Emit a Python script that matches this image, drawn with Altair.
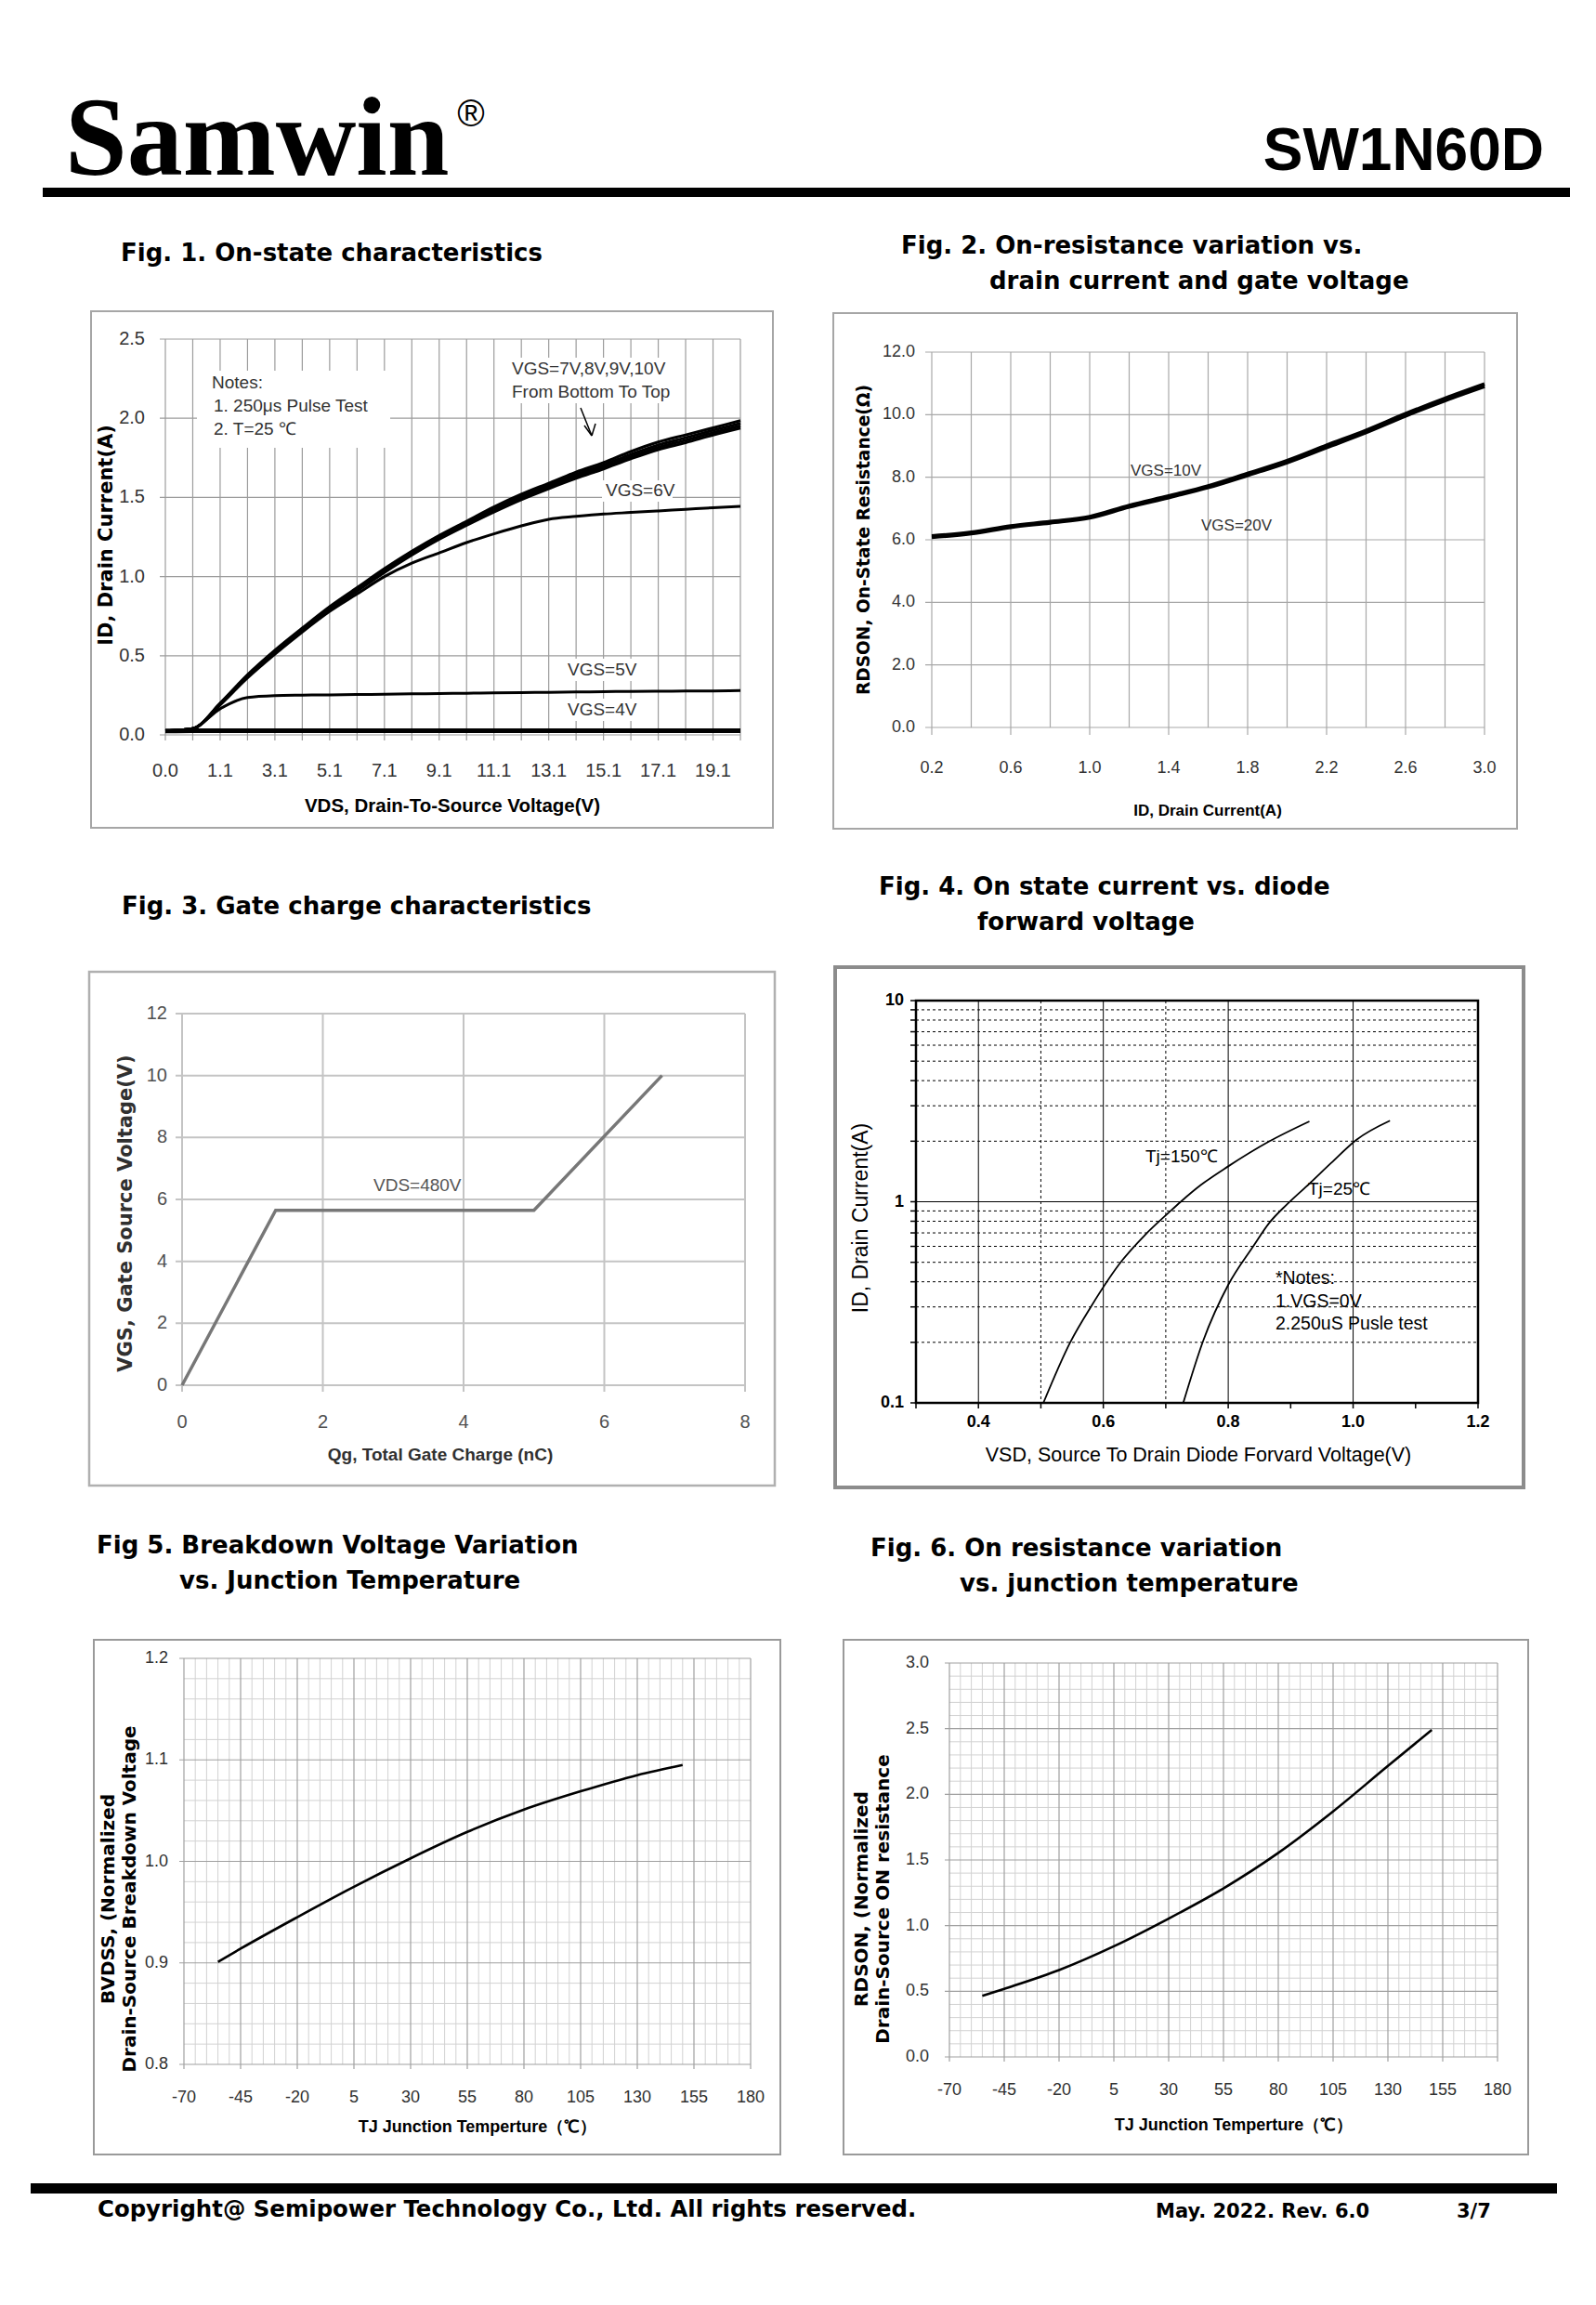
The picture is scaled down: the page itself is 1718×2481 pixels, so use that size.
import altair as alt
import pandas as pd

# ---------------------------------------------------------------- data
# Fig.1  On-state characteristics (Excel category axis)
vds_categories = ["0.0", "0.1", "1.1", "2.1", "3.1", "4.1", "5.1", "6.1", "7.1", "8.1", "9.1",
                  "10.1", "11.1", "12.1", "13.1", "14.1", "15.1", "16.1", "17.1", "18.1", "19.1", "20.1"]
id_vgs10 = [0.025, 0.04, 0.20, 0.38, 0.535, 0.675, 0.81, 0.93, 1.05, 1.16, 1.26, 1.35, 1.44, 1.52, 1.59, 1.66, 1.72, 1.79, 1.85, 1.895, 1.94, 1.985]
id_vgs9 = [0.025, 0.04, 0.197, 0.376, 0.53, 0.67, 0.803, 0.922, 1.04, 1.15, 1.25, 1.34, 1.428, 1.507, 1.577, 1.645, 1.705, 1.772, 1.832, 1.877, 1.924, 1.968]
id_vgs8 = [0.025, 0.04, 0.194, 0.372, 0.525, 0.665, 0.797, 0.915, 1.033, 1.143, 1.243, 1.332, 1.418, 1.496, 1.566, 1.632, 1.692, 1.757, 1.816, 1.861, 1.909, 1.953]
id_vgs7 = [0.025, 0.04, 0.19, 0.368, 0.52, 0.66, 0.79, 0.908, 1.026, 1.136, 1.236, 1.324, 1.408, 1.486, 1.555, 1.62, 1.68, 1.744, 1.802, 1.846, 1.894, 1.938]
id_vgs6 = [0.025, 0.04, 0.19, 0.36, 0.51, 0.65, 0.78, 0.89, 1.0, 1.085, 1.15, 1.215, 1.27, 1.32, 1.362, 1.38, 1.395, 1.405, 1.415, 1.425, 1.435, 1.443]
id_vgs5 = [0.025, 0.04, 0.165, 0.236, 0.248, 0.251, 0.253, 0.255, 0.257, 0.259, 0.261, 0.263, 0.265, 0.267, 0.269, 0.271, 0.273, 0.275, 0.276, 0.277, 0.278, 0.28]
id_vgs4 = [0.025, 0.026, 0.026, 0.026, 0.027, 0.027, 0.027, 0.027, 0.027, 0.027, 0.027, 0.027, 0.027, 0.027, 0.027, 0.027, 0.027, 0.027, 0.027, 0.027, 0.027, 0.027]
fig1_y_ticks = [0.0, 0.5, 1.0, 1.5, 2.0, 2.5]
fig1_y_labels = ["0.0", "0.5", "1.0", "1.5", "2.0", "2.5"]

# Fig.2  RDS(on) vs drain current
fig2_id = [0.2, 0.4, 0.6, 0.8, 1.0, 1.2, 1.4, 1.6, 1.8, 2.0, 2.2, 2.4, 2.6, 2.8, 3.0]
rds_vgs10 = [6.12, 6.24, 6.44, 6.58, 6.74, 7.10, 7.40, 7.72, 8.12, 8.53, 9.02, 9.50, 10.03, 10.52, 10.98]
rds_vgs20 = [6.08, 6.20, 6.40, 6.54, 6.70, 7.05, 7.35, 7.67, 8.06, 8.47, 8.95, 9.43, 9.96, 10.45, 10.90]
fig2_x_ticks = [0.2, 0.6, 1.0, 1.4, 1.8, 2.2, 2.6, 3.0]
fig2_x_labels = ["0.2", "0.6", "1.0", "1.4", "1.8", "2.2", "2.6", "3.0"]
fig2_y_ticks = [0.0, 2.0, 4.0, 6.0, 8.0, 10.0, 12.0]
fig2_y_labels = ["0.0", "2.0", "4.0", "6.0", "8.0", "10.0", "12.0"]

# Fig.3  Gate charge
qg_nc = [0.0, 1.33, 5.0, 6.82]
vgs_v = [0.0, 5.65, 5.65, 10.0]
fig3_x_ticks = [0, 2, 4, 6, 8]
fig3_x_labels = ["0", "2", "4", "6", "8"]
fig3_y_ticks = [0, 2, 4, 6, 8, 10, 12]
fig3_y_labels = ["0", "2", "4", "6", "8", "10", "12"]

# Fig.4  Body diode forward voltage
vsd_150 = [0.504, 0.547, 0.580, 0.630, 0.666, 0.706, 0.724, 0.756, 0.800, 0.865, 0.930]
isd_150 = [0.10, 0.20, 0.30, 0.51, 0.68, 0.89, 1.00, 1.21, 1.50, 1.99, 2.51]
vsd_25 = [0.728, 0.760, 0.800, 0.840, 0.865, 0.894, 0.930, 0.965, 1.005, 1.059]
isd_25 = [0.10, 0.204, 0.386, 0.60, 0.78, 0.97, 1.23, 1.56, 2.03, 2.53]
fig4_x_ticks = [0.4, 0.6, 0.8, 1.0, 1.2]
fig4_x_labels = ["0.4", "0.6", "0.8", "1.0", "1.2"]
fig4_x_all_ticks = [0.3, 0.4, 0.5, 0.6, 0.7, 0.8, 0.9, 1.0, 1.1, 1.2]
fig4_y_ticks = [0.1, 1, 10]
fig4_y_labels = ["0.1", "1", "10"]
fig4_y_minor = [0.2, 0.3, 0.4, 0.5, 0.6, 0.7, 0.8, 0.9, 2, 3, 4, 5, 6, 7, 8, 9]

# Fig.5  Normalized BVDSS vs Tj
tj5 = [-55, -45, -20, 5, 30, 55, 80, 105, 130, 150]
bvdss = [0.901, 0.914, 0.945, 0.975, 1.003, 1.029, 1.051, 1.069, 1.085, 1.095]
# Fig.6  Normalized RDS(on) vs Tj
tj6 = [-55, -45, -20, 5, 30, 55, 80, 105, 130, 150]
rdson_n = [0.465, 0.519, 0.662, 0.843, 1.054, 1.284, 1.554, 1.870, 2.216, 2.490]

tj_major = [-70, -45, -20, 5, 30, 55, 80, 105, 130, 155, 180]
tj_labels = ["-70", "-45", "-20", "5", "30", "55", "80", "105", "130", "155", "180"]
tj_minor = [v for v in range(-70, 181, 5) if v not in tj_major]
fig5_y_major = [0.8, 0.9, 1.0, 1.1, 1.2]
fig5_y_labels = ["0.8", "0.9", "1.0", "1.1", "1.2"]
fig5_y_minor = [0.82, 0.84, 0.86, 0.88, 0.92, 0.94, 0.96, 0.98, 1.02, 1.04, 1.06, 1.08, 1.12, 1.14, 1.16, 1.18]
fig6_y_major = [0.0, 0.5, 1.0, 1.5, 2.0, 2.5, 3.0]
fig6_y_labels = ["0.0", "0.5", "1.0", "1.5", "2.0", "2.5", "3.0"]
fig6_y_minor = [0.1, 0.2, 0.3, 0.4, 0.6, 0.7, 0.8, 0.9, 1.1, 1.2, 1.3, 1.4, 1.6, 1.7, 1.8, 1.9,
                2.1, 2.2, 2.3, 2.4, 2.6, 2.7, 2.8, 2.9]

# ---------------------------------------------------------------- helpers
ONE = alt.Data(values=[{"k": 0}])
SANS = "Liberation Sans, Arial, Helvetica, sans-serif"
WIDE = "DejaVu Sans, Verdana, sans-serif"
SERIF = "Liberation Serif, Times New Roman, serif"

# cells in page coordinates (x, y, w, h)
C_HL = (8, 8, 858, 232)
C_HR = (866, 8, 844, 232)
C1L = (8, 240, 858, 690)
C1R = (866, 240, 844, 690)
C2L = (8, 930, 858, 710)
C2R = (866, 930, 844, 710)
C3L = (8, 1640, 858, 695)
C3R = (866, 1640, 844, 695)
C_FL = (8, 2335, 858, 138)
C_FR = (866, 2335, 844, 138)


def txt(s, x, y, size, c, font=SANS, weight="normal", align="left", baseline="alphabetic",
        color="#000000", angle=0):
    kw = dict(text=s, font=font, fontSize=size, fontWeight=weight, align=align,
              baseline=baseline, color=color)
    if angle:
        kw["angle"] = angle
    return alt.Chart(ONE).mark_text(**kw).encode(x=alt.value(x - c[0]), y=alt.value(y - c[1]))


def rect(x0, y0, x1, y1, c, fill=None, stroke=None, sw=1):
    kw = {}
    if fill:
        kw["fill"] = fill
    else:
        kw["fillOpacity"] = 0
    if stroke:
        kw["stroke"] = stroke
        kw["strokeWidth"] = sw
    return alt.Chart(ONE).mark_rect(**kw).encode(
        x=alt.value(x0 - c[0]), x2=alt.value(x1 - c[0]),
        y=alt.value(y0 - c[1]), y2=alt.value(y1 - c[1]))


def seg(x0, y0, x1, y1, c, color="#000000", sw=1):
    return alt.Chart(ONE).mark_rule(color=color, strokeWidth=sw).encode(
        x=alt.value(x0 - c[0]), x2=alt.value(x1 - c[0]),
        y=alt.value(y0 - c[1]), y2=alt.value(y1 - c[1]))


def vgrid(values, xs, ytop, ybot, color, sw=1, dash=None):
    kw = dict(color=color, strokeWidth=sw)
    if dash:
        kw["strokeDash"] = dash
    return alt.Chart(pd.DataFrame({"x": values})).mark_rule(**kw).encode(
        x=alt.X("x:Q", scale=xs, axis=None), y=alt.value(ytop), y2=alt.value(ybot))


def hgrid(values, ys, xl, xr, color, sw=1, dash=None):
    kw = dict(color=color, strokeWidth=sw)
    if dash:
        kw["strokeDash"] = dash
    return alt.Chart(pd.DataFrame({"y": values})).mark_rule(**kw).encode(
        y=alt.Y("y:Q", scale=ys, axis=None), x=alt.value(xl), x2=alt.value(xr))


def xlabels(values, labels, xs, y, c, size, font=SANS, color="#404040", weight="normal"):
    return alt.Chart(pd.DataFrame({"x": values, "t": labels})).mark_text(
        font=font, fontSize=size, color=color, fontWeight=weight, align="center",
        baseline="middle").encode(x=alt.X("x:Q", scale=xs, axis=None), y=alt.value(y - c[1]),
                                  text="t:N")


def ylabels(values, labels, ys, xr, c, size, font=SANS, color="#404040", weight="normal"):
    return alt.Chart(pd.DataFrame({"y": values, "t": labels})).mark_text(
        font=font, fontSize=size, color=color, fontWeight=weight, align="right",
        baseline="middle").encode(y=alt.Y("y:Q", scale=ys, axis=None), x=alt.value(xr - c[0]),
                                  text="t:N")


def curve(xv, yv, xs, ys, color="#000000", sw=2, interp="monotone"):
    return alt.Chart(pd.DataFrame({"x": xv, "y": yv})).mark_line(
        color=color, strokeWidth=sw, interpolate=interp).encode(
        x=alt.X("x:Q", scale=xs, axis=None), y=alt.Y("y:Q", scale=ys, axis=None))


def scale(domain, rng, typ=None):
    if typ:
        return alt.Scale(type=typ, domain=domain, range=rng, nice=False)
    return alt.Scale(domain=domain, range=rng, nice=False, zero=False)


# ---------------------------------------------------------------- header
hdrL = alt.layer(
    txt("Samwin", 70, 188, 120, C_HL, font=SERIF, weight="bold"),
    txt("®", 507, 124, 40, C_HL, align="center", baseline="middle"),
    rect(46, 202, 866, 212, C_HL, fill="#000000"),
).properties(width=C_HL[2], height=C_HL[3])
hdrR = alt.layer(
    txt("SW1N60D", 1662, 183, 64, C_HR, weight="bold", align="right"),
    rect(866, 202, 1690, 212, C_HR, fill="#000000"),
).properties(width=C_HR[2], height=C_HR[3])

# ---------------------------------------------------------------- Fig 1
c = C1L
X0, X1, YT, YB = 178 - c[0], 797 - c[0], 365 - c[1], 791 - c[1]
xs1 = scale([0, 21], [X0, X1])
ys1 = scale([0, 2.5], [YB, YT])
idx = list(range(len(vds_categories)))
ANN = dict(font=SANS, baseline="middle", color="#333333")
fig1 = alt.layer(
    rect(98, 335, 832, 891, c, stroke="#a6a6a6", sw=2),
    txt("Fig. 1. On-state characteristics", 130, 281, 26, c, font=WIDE, weight="bold"),
    vgrid(idx, xs1, YT, YB + 6, "#9c9c9c", 1.2),
    hgrid(fig1_y_ticks, ys1, X0 - 6, X1, "#9c9c9c", 1.2),
    xlabels(idx[::2], vds_categories[::2], xs1, 830, c, 20, color="#333333"),
    ylabels(fig1_y_ticks, fig1_y_labels, ys1, 156, c, 20, color="#333333"),
    txt("VDS,  Drain-To-Source Voltage(V)", 487, 868, 20.5, c, weight="bold", align="center",
        baseline="middle"),
    txt("ID,  Drain Current(A)", 115, 576, 21, c, font=WIDE, weight="bold", align="center",
        baseline="middle", angle=270),
    rect(212, 399, 420, 482, c, fill="#ffffff"),
    rect(548, 385, 728, 434, c, fill="#ffffff"),
    rect(648, 517, 724, 540, c, fill="#ffffff"),
    rect(607, 709, 685, 733, c, fill="#ffffff"),
    rect(607, 752, 685, 776, c, fill="#ffffff"),
    curve(idx, id_vgs4, xs1, ys1, sw=5),
    curve(idx, id_vgs5, xs1, ys1, sw=3),
    curve(idx, id_vgs6, xs1, ys1, sw=3),
    curve(idx, id_vgs7, xs1, ys1, sw=3),
    curve(idx, id_vgs8, xs1, ys1, sw=3),
    curve(idx, id_vgs9, xs1, ys1, sw=3),
    curve(idx, id_vgs10, xs1, ys1, sw=3),
    txt("Notes:", 228, 412, 19, c, **ANN),
    txt(" 1. 250μs  Pulse Test", 230, 437, 19, c, **ANN),
    txt(" 2. T=25 ℃", 230, 462, 19, c, **ANN),
    txt("VGS=7V,8V,9V,10V", 551, 397, 19, c, **ANN),
    txt("From Bottom To Top", 551, 422, 19, c, **ANN),
    seg(625, 439, 637, 469, c, sw=1.5),
    seg(637, 469, 629, 458, c, sw=1.5),
    seg(637, 469, 641, 456, c, sw=1.5),
    txt("VGS=6V", 652, 528, 19, c, **ANN),
    txt("VGS=5V", 611, 721, 19, c, **ANN),
    txt("VGS=4V", 611, 764, 19, c, **ANN),
).properties(width=c[2], height=c[3])

# ---------------------------------------------------------------- Fig 2
c = C1R
X0, X1, YT, YB = 1003 - c[0], 1598 - c[0], 379 - c[1], 783 - c[1]
xs2 = scale([0.2, 3.0], [X0, X1])
ys2 = scale([0, 12], [YB, YT])
fig2 = alt.layer(
    rect(897, 337, 1633, 892, c, stroke="#a6a6a6", sw=2),
    txt("Fig. 2. On-resistance variation vs.", 970, 273, 26, c, font=WIDE, weight="bold"),
    txt("drain current and gate voltage", 1065, 311, 26, c, font=WIDE, weight="bold"),
    vgrid(fig2_id, xs2, YT, YB, "#a8a8a8", 1.2),
    vgrid(fig2_x_ticks, xs2, YB, YB + 8, "#a8a8a8", 1.2),
    hgrid(fig2_y_ticks, ys2, X0 - 7, X1, "#a8a8a8", 1.2),
    xlabels(fig2_x_ticks, fig2_x_labels, xs2, 827, c, 18, color="#333333"),
    ylabels(fig2_y_ticks, fig2_y_labels, ys2, 985, c, 18, color="#333333"),
    txt("ID, Drain Current(A)", 1300, 873, 17, c, weight="bold", align="center", baseline="middle"),
    txt("RDSON, On-State Resistance(Ω)", 930, 581, 18.6, c, font=WIDE, weight="bold",
        align="center", baseline="middle", angle=270),
    curve(fig2_id, rds_vgs20, xs2, ys2, sw=3.8),
    curve(fig2_id, rds_vgs10, xs2, ys2, sw=3.8),
    txt("VGS=10V", 1217, 507, 17, c, **ANN),
    txt("VGS=20V", 1293, 566, 17, c, **ANN),
).properties(width=c[2], height=c[3])

# ---------------------------------------------------------------- Fig 3
c = C2L
X0, X1, YT, YB = 196 - c[0], 802 - c[0], 1091 - c[1], 1491 - c[1]
xs3 = scale([0, 8], [X0, X1])
ys3 = scale([0, 12], [YB, YT])
fig3 = alt.layer(
    rect(96, 1046, 834, 1599, c, stroke="#b0b0b0", sw=2.5),
    txt("Fig. 3. Gate charge characteristics", 131, 984, 26, c, font=WIDE, weight="bold"),
    vgrid(fig3_x_ticks, xs3, YT, YB + 7, "#c4c4c4", 2),
    hgrid(fig3_y_ticks, ys3, X0 - 7, X1, "#c4c4c4", 2),
    xlabels(fig3_x_ticks, fig3_x_labels, xs3, 1531, c, 20, color="#505050"),
    ylabels(fig3_y_ticks, fig3_y_labels, ys3, 180, c, 20, color="#505050"),
    txt("Qg, Total Gate Charge (nC)", 474, 1566, 19, c, weight="bold", align="center",
        baseline="middle", color="#303030"),
    txt("VGS,  Gate Source Voltage(V)", 136, 1306, 21, c, font=WIDE, weight="bold",
        align="center", baseline="middle", angle=270, color="#303030"),
    curve(qg_nc, vgs_v, xs3, ys3, color="#777777", sw=3.5, interp="linear"),
    txt("VDS=480V", 402, 1276, 19, c, font=SANS, baseline="middle", color="#555555"),
).properties(width=c[2], height=c[3])

# ---------------------------------------------------------------- Fig 4
c = C2R
X0, X1, YT, YB = 986 - c[0], 1591 - c[0], 1077 - c[1], 1510 - c[1]
xs4 = scale([0.3, 1.2], [X0, X1])
ys4 = scale([0.1, 10], [YB, YT], typ="log")
fig4 = alt.layer(
    rect(899, 1041, 1640, 1601, c, stroke="#8c8c8c", sw=4),
    txt("Fig. 4. On state current vs. diode", 946, 963, 26, c, font=WIDE, weight="bold"),
    txt("forward voltage", 1052, 1001, 26, c, font=WIDE, weight="bold"),
    vgrid([0.5, 0.7], xs4, YT, YB, "#000000", 1, dash=[3, 3]),
    vgrid([0.4, 0.6, 0.8, 1.0], xs4, YT, YB, "#000000", 1),
    hgrid(fig4_y_minor, ys4, X0, X1, "#000000", 1, dash=[3, 3]),
    hgrid([1], ys4, X0, X1, "#000000", 1),
    vgrid(fig4_x_all_ticks, xs4, YB, YB + 6, "#000000", 1.5),
    hgrid(fig4_y_minor + fig4_y_ticks, ys4, X0 - 6, X0, "#000000", 1.5),
    rect(986, 1077, 1591, 1510, c, stroke="#000000", sw=2.5),
    xlabels(fig4_x_ticks, fig4_x_labels, xs4, 1531, c, 18, color="#000000", weight="bold"),
    ylabels(fig4_y_ticks, fig4_y_labels, ys4, 973, c, 18, color="#000000", weight="bold"),
    txt("VSD, Source To Drain Diode Forvard Voltage(V)", 1290, 1567, 21.5, c, align="center",
        baseline="middle"),
    txt("ID,  Drain Current(A)", 927, 1311, 23, c, align="center", baseline="middle", angle=270),
    curve(vsd_150, isd_150, xs4, ys4, sw=1.8),
    curve(vsd_25, isd_25, xs4, ys4, sw=1.8),
    txt("Tj=150℃", 1233, 1245, 19, c, baseline="middle"),
    txt("Tj=25℃", 1408, 1280, 19, c, baseline="middle"),
    txt("*Notes:", 1373, 1376, 19.5, c, baseline="middle"),
    txt("1.VGS=0V", 1373, 1401, 19.5, c, baseline="middle"),
    txt("2.250uS Pusle test", 1373, 1425, 19.5, c, baseline="middle"),
).properties(width=c[2], height=c[3])

# ---------------------------------------------------------------- Fig 5
c = C3L
X0, X1, YT, YB = 198 - c[0], 808 - c[0], 1785 - c[1], 2222 - c[1]
xs5 = scale([-70, 180], [X0, X1])
ys5 = scale([0.8, 1.2], [YB, YT])
fig5 = alt.layer(
    rect(101, 1765, 840, 2319, c, stroke="#9a9a9a", sw=2),
    txt("Fig 5. Breakdown Voltage Variation", 104, 1672, 26, c, font=WIDE, weight="bold"),
    txt("vs. Junction Temperature", 193, 1710, 26, c, font=WIDE, weight="bold"),
    vgrid(tj_minor, xs5, YT, YB, "#d2d2d2", 1),
    hgrid(fig5_y_minor, ys5, X0, X1, "#d2d2d2", 1),
    vgrid(tj_major, xs5, YT, YB + 5, "#a0a0a0", 1.2),
    hgrid(fig5_y_major, ys5, X0 - 5, X1, "#a0a0a0", 1.2),
    xlabels(tj_major, tj_labels, xs5, 2258, c, 18, color="#303030"),
    ylabels(fig5_y_major, fig5_y_labels, ys5, 181, c, 18, color="#303030"),
    txt("TJ Junction Temperture（℃）", 514, 2290, 18, c, weight="bold", align="center",
        baseline="middle"),
    txt("BVDSS, (Normalized", 117, 2044, 20, c, font=WIDE, weight="bold", align="center",
        baseline="middle", angle=270),
    txt("Drain-Source Breakdown Voltage", 140, 2044, 20, c, font=WIDE, weight="bold",
        align="center", baseline="middle", angle=270),
    curve(tj5, bvdss, xs5, ys5, sw=2.6),
).properties(width=c[2], height=c[3])

# ---------------------------------------------------------------- Fig 6
c = C3R
X0, X1, YT, YB = 1022 - c[0], 1612 - c[0], 1790 - c[1], 2214 - c[1]
xs6 = scale([-70, 180], [X0, X1])
ys6 = scale([0, 3], [YB, YT])
fig6 = alt.layer(
    rect(908, 1765, 1645, 2319, c, stroke="#9a9a9a", sw=2),
    txt("Fig. 6. On resistance variation", 937, 1675, 26, c, font=WIDE, weight="bold"),
    txt("vs. junction temperature", 1033, 1713, 26, c, font=WIDE, weight="bold"),
    vgrid(tj_minor, xs6, YT, YB, "#d2d2d2", 1),
    hgrid(fig6_y_minor, ys6, X0, X1, "#d2d2d2", 1),
    vgrid(tj_major, xs6, YT, YB + 5, "#a0a0a0", 1.2),
    hgrid(fig6_y_major, ys6, X0 - 5, X1, "#a0a0a0", 1.2),
    xlabels(tj_major, tj_labels, xs6, 2250, c, 18, color="#303030"),
    ylabels(fig6_y_major, fig6_y_labels, ys6, 1000, c, 18, color="#303030"),
    txt("TJ Junction Temperture（℃）", 1328, 2288, 18, c, weight="bold", align="center",
        baseline="middle"),
    txt("RDSON, (Normalized", 928, 2044, 20, c, font=WIDE, weight="bold", align="center",
        baseline="middle", angle=270),
    txt("Drain-Source ON resistance", 951, 2044, 20, c, font=WIDE, weight="bold",
        align="center", baseline="middle", angle=270),
    curve(tj6, rdson_n, xs6, ys6, sw=2.6),
).properties(width=c[2], height=c[3])

# ---------------------------------------------------------------- footer
ftrL = alt.layer(
    rect(33, 2350, 866, 2361, C_FL, fill="#000000"),
    txt("Copyright@ Semipower Technology Co., Ltd. All rights reserved.", 105, 2386, 24.4, C_FL,
        font=WIDE, weight="bold"),
).properties(width=C_FL[2], height=C_FL[3])
ftrR = alt.layer(
    rect(866, 2350, 1676, 2361, C_FR, fill="#000000"),
    txt("May. 2022. Rev. 6.0", 1244, 2387, 21, C_FR, font=WIDE, weight="bold"),
    txt("3/7", 1568, 2387, 21, C_FR, font=WIDE, weight="bold"),
).properties(width=C_FR[2], height=C_FR[3])

chart = alt.concat(
    hdrL, hdrR, fig1, fig2, fig3, fig4, fig5, fig6, ftrL, ftrR,
    columns=2, spacing=0, bounds="flush"
).properties(padding=0, background="#ffffff").configure_view(strokeWidth=0)

chart.save("out.html", embed_options={"renderer": "svg", "actions": False})
